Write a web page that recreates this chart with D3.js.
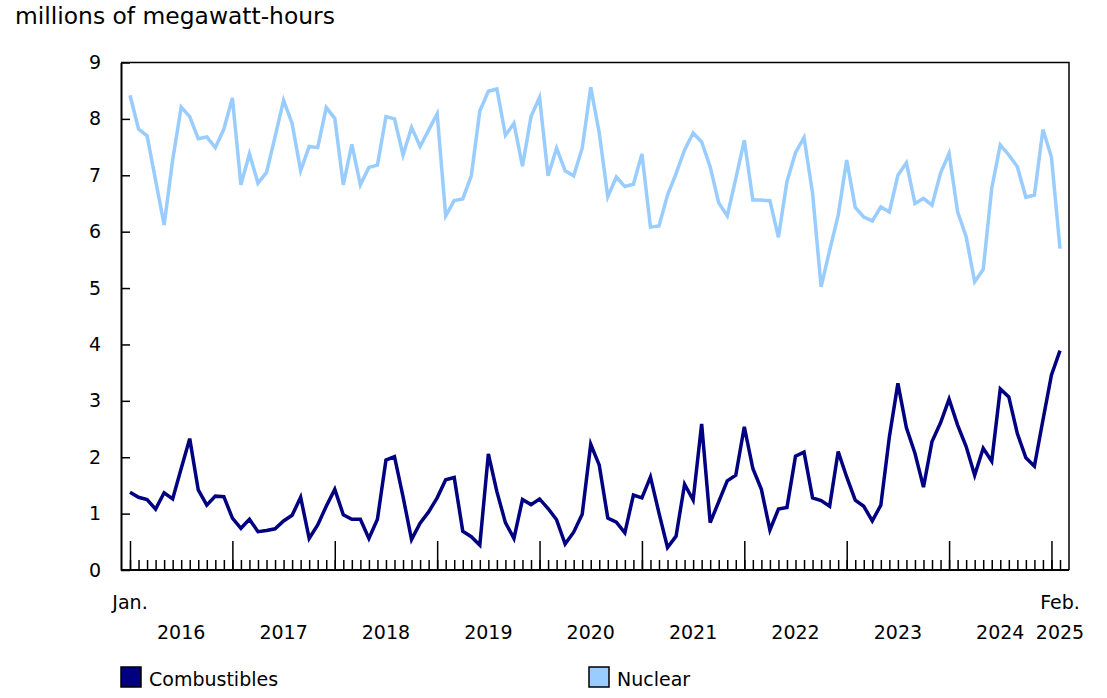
<!DOCTYPE html>
<html>
<head>
<meta charset="utf-8">
<script src="https://cdn.jsdelivr.net/npm/d3@7"></script>
<style>
  body { margin: 0; background: #fff; }
  svg text { font-family: "DejaVu Sans", Verdana, sans-serif; fill: #000; }
  .axis path, .axis line { stroke: #000; }
</style>
</head>
<body>
<div class="chart"></div>
<script>
// monthly values, Jan 2016 to Feb 2025 (millions of MWh)
const combustibles = [
  1.38, 1.29, 1.25, 1.08, 1.37, 1.26, 1.80, 2.33, 1.42, 1.15, 1.31, 1.30, // 2016
  0.92, 0.74, 0.90, 0.68, 0.70, 0.73, 0.87, 0.97, 1.29, 0.56, 0.80, 1.13, // 2017
  1.43, 0.98, 0.90, 0.90, 0.56, 0.90, 1.95, 2.01, 1.30, 0.54, 0.83, 1.03, // 2018
  1.28, 1.60, 1.64, 0.69, 0.59, 0.44, 2.06, 1.39, 0.84, 0.56, 1.25, 1.16, // 2019
  1.26, 1.09, 0.89, 0.46, 0.67, 0.99, 2.23, 1.86, 0.92, 0.85, 0.66, 1.33, // 2020
  1.28, 1.65, 1.01, 0.40, 0.60, 1.52, 1.24, 2.59, 0.84, 1.21, 1.58, 1.68, // 2021
  2.54, 1.80, 1.43, 0.71, 1.08, 1.11, 2.02, 2.09, 1.28, 1.23, 1.13, 2.10, // 2022
  1.65, 1.24, 1.13, 0.87, 1.15, 2.36, 3.31, 2.52, 2.07, 1.47, 2.28, 2.61, // 2023
  3.03, 2.57, 2.19, 1.68, 2.16, 1.93, 3.21, 3.07, 2.42, 1.99, 1.84, 2.66, // 2024
  3.46, 3.89                                                              // 2025
];

const nuclear = [
  8.42, 7.82, 7.70, 6.91, 6.12, 7.27, 8.21, 8.04, 7.65, 7.68, 7.49, 7.82, // 2016
  8.37, 6.83, 7.38, 6.86, 7.05, 7.68, 8.33, 7.92, 7.08, 7.51, 7.49, 8.20, // 2017
  8.01, 6.83, 7.55, 6.83, 7.14, 7.18, 8.04, 8.00, 7.36, 7.85, 7.51, 7.80, // 2018
  8.09, 6.28, 6.55, 6.58, 6.99, 8.14, 8.49, 8.53, 7.71, 7.92, 7.16, 8.04, // 2019
  8.38, 6.99, 7.48, 7.08, 6.99, 7.48, 8.56, 7.75, 6.62, 6.97, 6.80, 6.84, // 2020
  7.38, 6.08, 6.10, 6.65, 7.03, 7.45, 7.75, 7.59, 7.15, 6.51, 6.28, 6.94, // 2021
  7.62, 6.56, 6.56, 6.55, 5.90, 6.89, 7.40, 7.67, 6.68, 5.02, 5.67, 6.29, // 2022
  7.27, 6.43, 6.26, 6.19, 6.44, 6.35, 7.00, 7.22, 6.50, 6.59, 6.47, 7.04, // 2023
  7.39, 6.35, 5.91, 5.11, 5.33, 6.77, 7.54, 7.36, 7.15, 6.61, 6.65, 7.81, // 2024
  7.32, 5.70                                                              // 2025
];

const years = ["2016", "2017", "2018", "2019", "2020", "2021", "2022", "2023", "2024", "2025"];
const yTicks = [0, 1, 2, 3, 4, 5, 6, 7, 8, 9];
const seriesNames = ["Combustibles", "Nuclear"];
const seriesColors = ["#000080", "#99ccff"];

// one category per month
const months = d3.timeMonth.range(new Date(2016, 0, 1), new Date(2025, 2, 1));

// margin convention
const margin = { top: 62.5, right: 38, bottom: 128, left: 121 };
const width = 1107 - margin.left - margin.right,
  height = 698 - margin.top - margin.bottom;

const root = d3
  .select(".chart")
  .append("svg")
  .attr("width", width + margin.left + margin.right)
  .attr("height", height + margin.top + margin.bottom);

const svg = root
  .append("g")
  .attr("transform", "translate(" + margin.left + "," + margin.top + ")");

// scales
const x = d3.scalePoint().domain(months).range([9, width - 9]);
const y = d3.scaleLinear().domain([0, 9]).range([height, 0]);

// unit title
root
  .append("text")
  .attr("x", 15)
  .attr("y", 24)
  .style("font-size", "23.4px")
  .text("millions of megawatt-hours");

// frame (top + right)
svg
  .append("path")
  .attr("d", "M0,0H" + width + "V" + height)
  .attr("fill", "none")
  .attr("stroke", "#000")
  .attr("stroke-width", 1.5);

// y axis, ticks pointing in
svg
  .append("g")
  .attr("class", "axis y-axis")
  .call(d3.axisLeft(y).tickValues(yTicks).tickSize(-9).tickSizeOuter(0).tickPadding(20))
  .call(g => g.select(".domain").attr("stroke-width", 2))
  .call(g => g.selectAll(".tick line").attr("stroke-width", 1.5))
  .call(g => g.selectAll(".tick text").style("font-size", "19px"));

// x axis: month ticks (minor) and January ticks (major)
const xAxisSVG = svg
  .append("g")
  .attr("class", "axis x-axis")
  .attr("transform", "translate(0," + height + ")");

xAxisSVG
  .append("g")
  .call(d3.axisBottom(x).tickValues(months).tickSize(-10).tickSizeOuter(0).tickFormat(""))
  .call(g => g.select(".domain").attr("d", "M0,0H" + width).attr("stroke-width", 2))
  .call(g => g.selectAll(".tick line").attr("stroke-width", 1.5));

xAxisSVG
  .append("g")
  .call(d3.axisBottom(x).tickValues(months.filter(d => d.getMonth() === 0)).tickSize(-29).tickFormat(""))
  .call(g => g.select(".domain").remove())
  .call(g => g.selectAll(".tick line").attr("stroke-width", 1.5));

// month labels at both ends
xAxisSVG
  .selectAll(".endLabel")
  .data([["Jan.", months[0]], ["Feb.", months[months.length - 1]]])
  .join("text")
  .attr("class", "endLabel")
  .attr("x", d => x(d[1]))
  .attr("y", 39)
  .attr("text-anchor", "middle")
  .style("font-size", "19px")
  .text(d => d[0]);

// year labels centred on each year
xAxisSVG
  .selectAll(".yearLabel")
  .data(years)
  .join("text")
  .attr("class", "yearLabel")
  .attr("x", (d, i) => {
    const start = i * 12;
    const end = Math.min(start + 12, months.length - 1);
    return i === years.length - 1 ? x(months[end]) : (x(months[start]) + x(months[end])) / 2;
  })
  .attr("y", 69)
  .attr("text-anchor", "middle")
  .style("font-size", "19px")
  .text(d => d);

// lines
const line = d3
  .line()
  .x((d, i) => x(months[i]))
  .y(d => y(d));

svg
  .selectAll(".series")
  .data([nuclear, combustibles])
  .join("path")
  .attr("class", "series")
  .attr("d", line)
  .attr("fill", "none")
  .attr("stroke", (d, i) => (i === 0 ? seriesColors[1] : seriesColors[0]))
  .attr("stroke-width", 3.5);

// legend
const legend = root
  .append("g")
  .attr("class", "legendWrapper")
  .attr("transform", "translate(0,667)");

const items = legend
  .selectAll(".legendItem")
  .data(seriesNames)
  .join("g")
  .attr("class", "legendItem")
  .attr("transform", (d, i) => "translate(" + [121, 589][i] + ",0)");

items
  .append("rect")
  .attr("width", 20)
  .attr("height", 20)
  .attr("fill", (d, i) => seriesColors[i])
  .attr("stroke", "#000")
  .attr("stroke-width", 1.5);

items
  .append("text")
  .attr("x", 28)
  .attr("y", 18.5)
  .style("font-size", "19px")
  .text(d => d);
</script>
</body>
</html>
